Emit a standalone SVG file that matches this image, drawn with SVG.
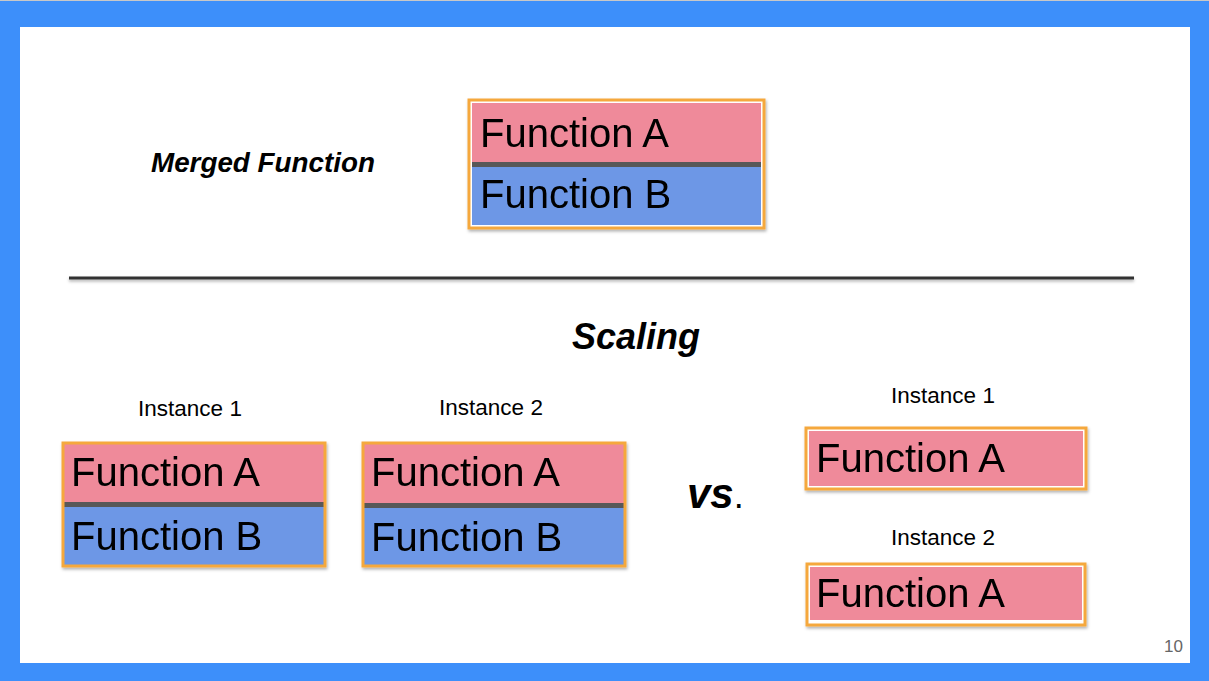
<svg xmlns="http://www.w3.org/2000/svg" width="1209" height="681" viewBox="0 0 1209 681">
<defs>
<filter id="sh" x="-10%" y="-10%" width="125%" height="130%">
<feDropShadow dx="1" dy="2" stdDeviation="1.5" flood-color="#000" flood-opacity="0.3"/>
</filter>
<filter id="lsh" filterUnits="userSpaceOnUse" x="60" y="270" width="1090" height="20">
<feDropShadow dx="0" dy="2" stdDeviation="1.5" flood-color="#000" flood-opacity="0.3"/>
</filter>
<style>
.fn{font-family:"Liberation Sans",Arial,sans-serif;font-size:40px;fill:#000}
.lbl{font-family:"Liberation Sans",Arial,sans-serif;font-size:22.5px;fill:#000;text-anchor:middle}
.hd{font-family:"Liberation Sans",Arial,sans-serif;font-weight:bold;font-style:italic;fill:#000}
.pk{fill:#ef8a9a}
.bl{fill:#6d97e6}
.div{fill:#595959}
.ob{fill:none;stroke:#f5a83c;stroke-width:3}
</style>
</defs>
<rect x="0" y="0" width="1209" height="681" fill="#3d8ffa"/>
<rect x="0" y="0" width="1209" height="1" fill="#c8c8c8"/>
<rect x="20" y="27" width="1170" height="636" fill="#fff"/>

<g id="merged-label"><text class="hd" x="151" y="172" font-size="27.8">Merged Function</text></g>

<g id="merged-box" filter="url(#sh)">
<rect x="469" y="100" width="295" height="128" fill="#fff"/>
<rect class="pk" x="472" y="103" width="289" height="61"/>
<rect class="div" x="472" y="162" width="289" height="5"/>
<rect class="bl" x="472" y="167" width="289" height="58"/>
<rect class="ob" x="469" y="100" width="295" height="128"/>
<text class="fn" x="480" y="147">Function A</text>
<text class="fn" x="480" y="208">Function B</text>
</g>

<g id="separator" filter="url(#lsh)"><rect x="69" y="276.5" width="1065" height="3" fill="#333"/></g>

<g id="scaling-label"><text class="hd" x="572" y="349" font-size="36">Scaling</text></g>

<g id="label-inst1-left"><text class="lbl" x="190" y="416">Instance 1</text></g>
<g id="label-inst2-mid"><text class="lbl" x="491" y="415">Instance 2</text></g>

<g id="box-inst1" filter="url(#sh)">
<rect class="pk" x="63" y="443" width="262" height="60"/>
<rect class="div" x="63" y="502" width="262" height="5"/>
<rect class="bl" x="63" y="507" width="262" height="59"/>
<rect class="ob" x="63" y="443" width="262" height="123"/>
<text class="fn" x="71" y="486">Function A</text>
<text class="fn" x="71" y="550">Function B</text>
</g>

<g id="box-inst2" filter="url(#sh)">
<rect class="pk" x="363" y="443" width="262" height="60"/>
<rect class="div" x="363" y="503" width="262" height="5"/>
<rect class="bl" x="363" y="508" width="262" height="58"/>
<rect class="ob" x="363" y="443" width="262" height="123"/>
<text class="fn" x="371" y="486">Function A</text>
<text class="fn" x="371" y="551">Function B</text>
</g>

<g id="vs"><text x="687" y="508" font-family="'Liberation Sans',Arial,sans-serif" font-size="42"><tspan font-weight="bold" font-style="italic">vs</tspan><tspan font-size="36">.</tspan></text></g>

<g id="label-inst1-right"><text class="lbl" x="943" y="403">Instance 1</text></g>
<g id="label-inst2-right"><text class="lbl" x="943" y="545">Instance 2</text></g>

<g id="box-right1" filter="url(#sh)">
<rect x="806" y="428" width="280" height="61" fill="#fff"/>
<rect class="pk" x="809" y="431" width="274" height="55"/>
<rect class="ob" x="806" y="428" width="280" height="61"/>
<text class="fn" x="816" y="472">Function A</text>
</g>

<g id="box-right2" filter="url(#sh)">
<rect x="807" y="564" width="278" height="61" fill="#fff"/>
<rect class="pk" x="810" y="567" width="272" height="53"/>
<rect class="ob" x="807" y="564" width="278" height="61"/>
<text class="fn" x="816" y="607">Function A</text>
</g>

<g id="page-number"><text x="1183" y="652" text-anchor="end" font-family="'Liberation Sans',Arial,sans-serif" font-size="17" fill="#666">10</text></g>
</svg>
